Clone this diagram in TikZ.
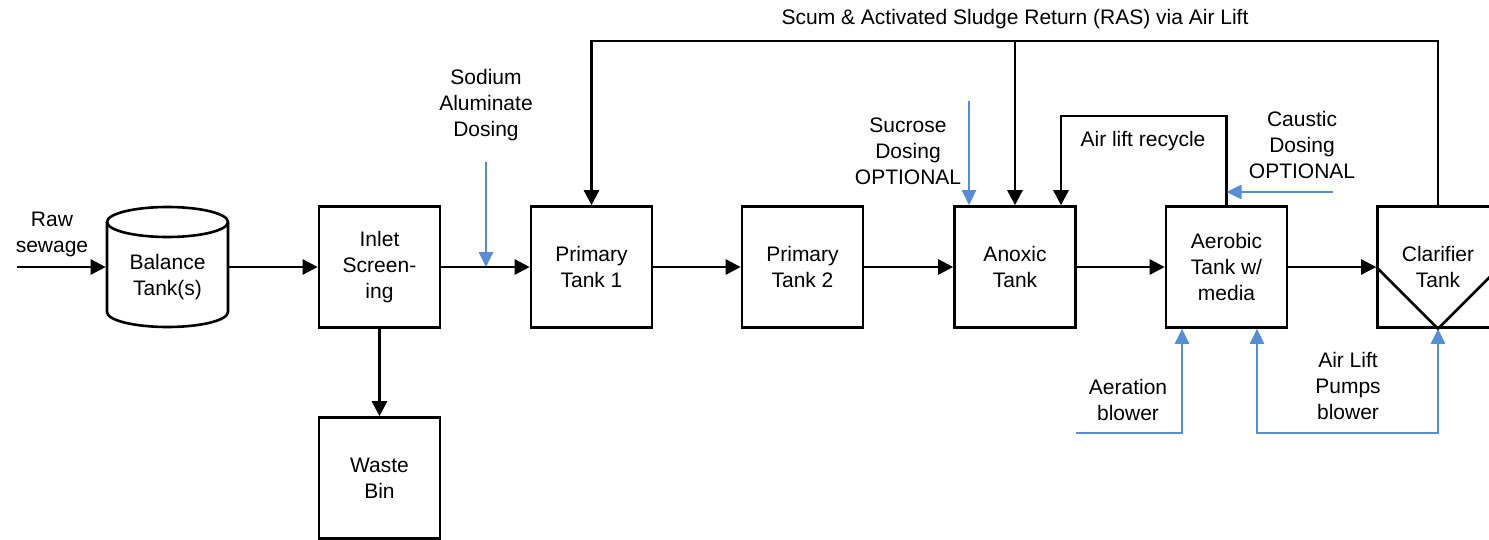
\documentclass[tikz,border=0pt]{standalone}
\usepackage{fontspec}
\setmainfont{Liberation Sans}
\usetikzlibrary{arrows.meta, calc}
\definecolor{dosingblue}{RGB}{85,142,213}

\begin{document}
\begin{tikzpicture}[x=0.5pt, y=-0.5pt,
    font=\fontsize{10.5}{13}\selectfont,
    tank/.style={draw, line width=1.3pt, minimum width=60.5pt, minimum height=60.5pt, align=center, inner sep=0pt},
    note/.style={align=center, inner sep=0pt},
    flow/.style={line width=1.3pt, -{Triangle[length=7.5pt, width=7.5pt]}},
    airline/.style={dosingblue, line width=1.3pt, -{Triangle[length=7.5pt, width=7pt]}}]
    \useasboundingbox (0,0) rectangle (1489,540);

    % process tanks
    \node[tank, draw=none, minimum height=45pt] (balance) at (167.5,277) {Balance\\Tank(s)};
    \draw[line width=1.3pt] (167.5,222) ellipse [x radius=60.5, y radius=15];
    \draw[line width=1.3pt] (107,222) -- (107,312) arc[start angle=180, end angle=0, x radius=60.5, y radius=15] -- (228,222);
    \node[tank] (inlet) at (379.5,267) {Inlet\\Screen-\\ing};
    \node[tank] (prim1) at (591.5,267) {Primary\\Tank 1};
    \node[tank] (prim2) at (802.5,267) {Primary\\Tank 2};
    \node[tank] (anoxic) at (1015,267) {Anoxic\\Tank};
    \node[tank] (aerobic) at (1226.5,267) {Aerobic\\Tank w/\\media};
    \node[tank] (clarifier) at (1438,267) {Clarifier\\Tank};
    \draw[line width=1.3pt] (clarifier.west) -- (clarifier.south) -- (clarifier.east);
    \node[tank] (waste) at (379.5,478) {Waste\\Bin};

    % labels
    \node[note] (rawlbl) at (52,234) {Raw\\sewage};
    \node[note] (nallbl) at (486,105) {Sodium\\Aluminate\\Dosing};
    \node[note] (suclbl) at (908,151) {Sucrose\\Dosing\\OPTIONAL};
    \node[note] (caulbl) at (1302,145) {Caustic\\Dosing\\OPTIONAL};
    \node[note] (recyclbl) at (1143,141) {Air lift recycle};
    \node[note] (raslbl) at (1015,19) {Scum \& Activated Sludge Return (RAS) via Air Lift};
    \node[note] (aerlbl) at (1128,400) {Aeration\\blower};
    \node[note] (pumplbl) at (1348,386) {Air Lift\\Pumps\\blower};

    % free ends
    \coordinate (rawin) at (17,267);
    \coordinate (naldose) at (486,162);
    \coordinate (sucin) at (969,101);
    \coordinate (caustin) at (1333,192);
    \coordinate (aerin) at (1076,433);
    \coordinate (pumpbase) at (1348,433);
    \coordinate (rasline) at (591.5,41);
    \coordinate (recyc) at (1061,116);

    % main flow
    \draw[flow] (rawin) -- (rawin -| balance.west);
    \draw[flow] (balance.east |- inlet) -- (inlet);
    \foreach \a/\b in {inlet/prim1, prim1/prim2, prim2/anoxic, anoxic/aerobic, aerobic/clarifier}
        \draw[flow] (\a) -- (\b);
    \draw[flow] (inlet) -- (waste);

    % returns
    \draw[flow] (clarifier.north) |- (rasline) -- (prim1.north);
    \draw[flow] (anoxic.north |- rasline) -- (anoxic.north);
    \draw[flow] (aerobic.north) |- (recyc) -- (recyc |- anoxic.north);

    % dosing and air
    \draw[airline] (naldose) -- (naldose |- inlet.east);
    \draw[airline] (sucin) -- (sucin |- anoxic.north);
    \draw[airline] (caustin) -- (caustin -| aerobic.north);
    \draw[airline] (aerin) -| ($(aerobic.south)+(-44.5,0)$);
    \draw[airline, {Triangle[length=7.5pt, width=7pt]}-{Triangle[length=7.5pt, width=7pt]}]
        ($(aerobic.south)+(30.5,0)$) |- (pumpbase) -| (clarifier.south);
\end{tikzpicture}
\end{document}
